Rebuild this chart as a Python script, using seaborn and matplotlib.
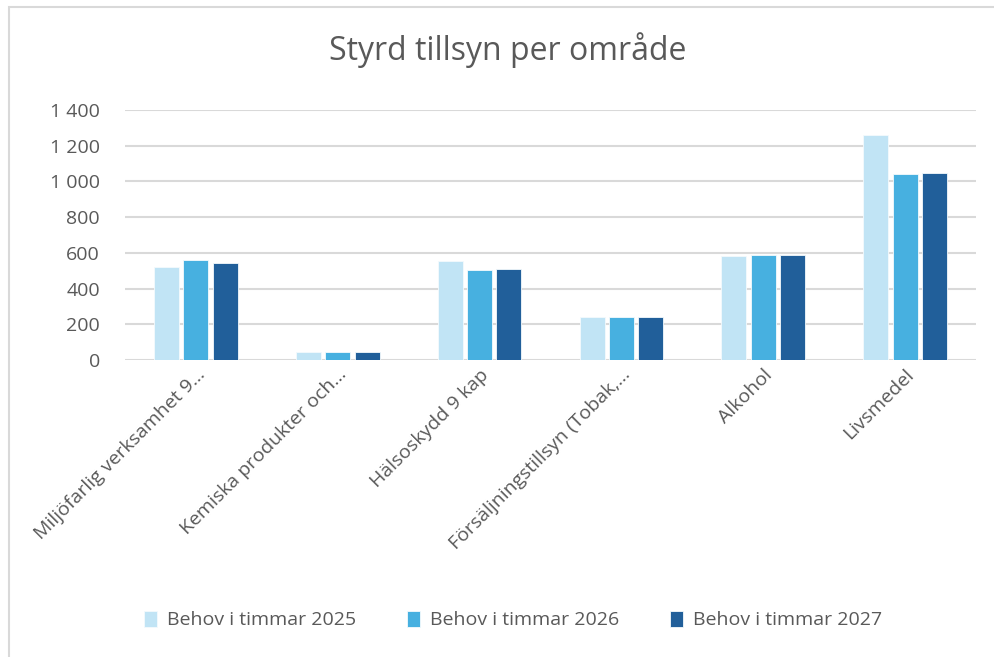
import matplotlib
matplotlib.use("Agg")
import matplotlib.pyplot as plt
import seaborn as sns
import pandas as pd
from matplotlib.patches import Rectangle
from matplotlib.ticker import FuncFormatter

categories = ["Miljöfarlig verksamhet 9…", "Kemiska produkter och…", "Hälsoskydd 9 kap",
              "Försäljningstillsyn (Tobak,…", "Alkohol", "Livsmedel"]
series_names = ["Behov i timmar 2025", "Behov i timmar 2026", "Behov i timmar 2027"]
values_2025 = [519, 44, 556, 239, 580, 1260]
values_2026 = [558, 44, 504, 239, 588, 1043]
values_2027 = [541, 44, 511, 239, 588, 1050]
colors = ["#C1E4F5", "#47B0E0", "#215F9A"]

rows = []
for name, vals in zip(series_names, [values_2025, values_2026, values_2027]):
    for c, v in zip(categories, vals):
        rows.append({"Område": c, "Serie": name, "Timmar": v})
df = pd.DataFrame(rows)

sns.set_theme(style="white")
plt.rcParams['font.family'] = ['Open Sans', 'DejaVu Sans']
text_color = "#595959"
grid_color = "#D9D9D9"

fig = plt.figure(figsize=(9.94, 6.57), dpi=100)
ax = fig.add_axes([125/994, 1-360/657, (976-125)/994, 250/657])

sns.barplot(data=df, x="Område", y="Timmar", hue="Serie", order=categories,
            hue_order=series_names, palette=colors, saturation=1, width=0.62, gap=0.15,
            ax=ax, legend=True, edgecolor="#F4FAFD", linewidth=0.6)

ax.set_ylim(0, 1400)
ax.set_xlim(-0.5, len(categories) - 0.5)
ax.set_yticks(range(0, 1401, 200))
ax.yaxis.set_major_formatter(FuncFormatter(lambda v, p: f"{int(v):,}".replace(",", " ")))
ax.grid(axis="y", color=grid_color, linewidth=1.5)
ax.set_axisbelow(True)
for s in ax.spines.values():
    s.set_visible(False)
ax.set_xlabel("")
ax.set_ylabel("")
ax.tick_params(axis="y", labelsize=14, colors=text_color, length=0, pad=18)
ax.tick_params(axis="x", labelsize=14, colors=text_color, length=0, pad=4)
for lbl in ax.get_xticklabels():
    lbl.set_rotation(45)
    lbl.set_ha("right")
    lbl.set_rotation_mode("anchor")

handles, labels = ax.get_legend_handles_labels()
ax.get_legend().remove()
fig.legend(handles, labels, loc="center", bbox_to_anchor=(513/994, 1-620/657), ncol=3,
           frameon=False, fontsize=14, labelcolor=text_color, handlelength=0.7,
           handleheight=0.9, handletextpad=0.5, columnspacing=2.6)

fig.text(508/994, 1-50/657, "Styrd tillsyn per område", ha="center", va="center",
         fontsize=23, color=text_color)

fig.add_artist(Rectangle((9/994, -0.1), 1.2, (657-7)/657 + 0.1, transform=fig.transFigure,
                         fill=False, edgecolor=grid_color, linewidth=1.5))

fig.savefig("out.png", dpi=100)
